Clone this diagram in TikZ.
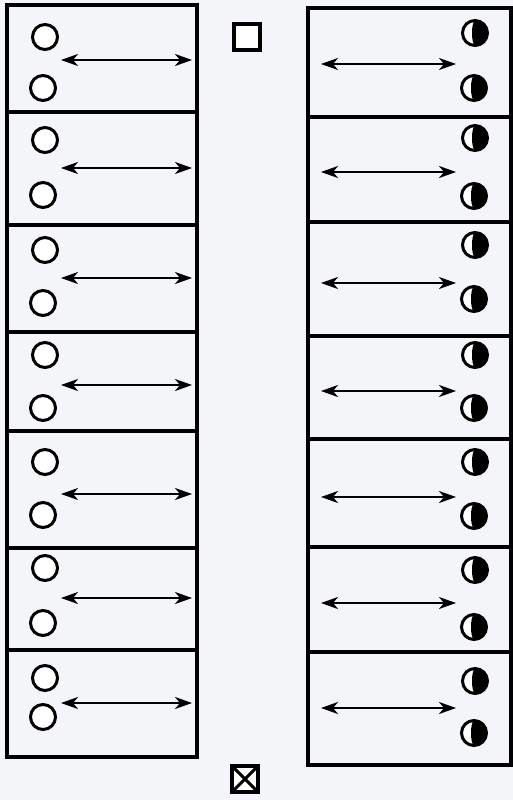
\documentclass[tikz,border=0pt]{standalone}
\usetikzlibrary{arrows.meta,calc}
\definecolor{bg}{HTML}{F4F5F9}
\tikzset{
  rowbox/.style={draw, line width=3.2pt, inner sep=0pt, outer sep=0pt, minimum width=#1},
  ring/.style={circle, draw, line width=3pt, minimum size=25pt, inner sep=0pt, fill=white},
  dbl/.style={line width=2pt, {Stealth[length=17pt,width=12pt,inset=5pt]}-{Stealth[length=17pt,width=12pt,inset=5pt]}},
  markbox/.style={draw, line width=3.4pt, minimum size=26pt, inner sep=0pt, fill=white},
  gibbous/.style={insert path={++(90:12.3pt) arc[start angle=90, end angle=-90, radius=12.3pt]
      arc[start angle=270, end angle=90, x radius=3pt, y radius=12.3pt] -- cycle}}
}
\begin{document}
\begin{tikzpicture}[x=1pt,y=-1pt]
\fill[bg] (0,0) rectangle (513,800);
\useasboundingbox (0,0) rectangle (513,800);
% left column
\foreach \t/\b/\ca/\cb/\ay [count=\i] in
  {5/112/37/88/60, 112/225/140/195/168, 225/332/250/303/278, 332/431/355/408/385,
   431/548/462/515/494, 548/650/568/623/598, 650/757/678/717/703}{
  \pgfmathsetmacro\h{\b-\t}
  \pgfmathsetmacro\m{(\b+\t)/2}
  \node[rowbox=190pt, minimum height=\h pt] (L\i) at (102,\m) {};
  \node[ring] (La\i) at (45,\ca) {};
  \node[ring] (Lb\i) at (43,\cb) {};
  \coordinate (Ll\i) at (61,\ay);
  \coordinate (Lr\i) at (192,\ay);
  \draw[dbl] (Ll\i) -- (Lr\i);
}
% right column
\foreach \t/\b/\ca/\cb/\ay [count=\i] in
  {8/117/33/88/64, 117/222/138/196/172, 222/336/245/299/283, 336/439/355/408/391,
   439/547/462/516/497, 547/652/570/627/603, 652/765/681/733/708}{
  \pgfmathsetmacro\h{\b-\t}
  \pgfmathsetmacro\m{(\b+\t)/2}
  \node[rowbox=203pt, minimum height=\h pt] (R\i) at (409.5,\m) {};
  \node[ring] (Ra\i) at (475,\ca) {};
  \fill (Ra\i.center) [gibbous];
  \node[ring] (Rb\i) at (474,\cb) {};
  \fill (Rb\i.center) [gibbous];
  \coordinate (Rl\i) at (321,\ay);
  \coordinate (Rr\i) at (456,\ay);
  \draw[dbl] (Rl\i) -- (Rr\i);
}
% middle marks
\node[markbox] (sq) at (247,37) {};
\node[markbox] (xb) at (245,779) {};
\draw[line width=3pt] ($(xb.center)+(-12,-12)$) -- ($(xb.center)+(12,12)$)
                      ($(xb.center)+(-12,12)$) -- ($(xb.center)+(12,-12)$);
\end{tikzpicture}
\end{document}
